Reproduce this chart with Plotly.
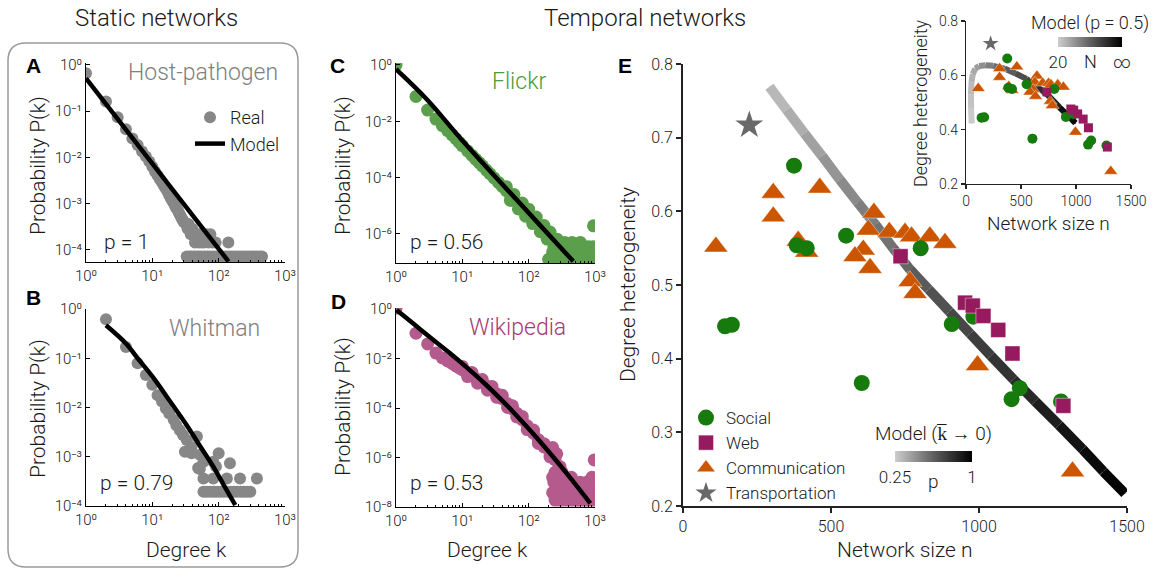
import plotly.graph_objects as go
from plotly.colors import sample_colorscale

W, H = 1153, 573
def X(px): return px / W
def Y(py): return 1 - py / H

FONT = "Roboto"
WEIGHT = 300
TXT = "#1a1a1a"
GRAY = "#878787"
GREEN_C = "#5b9e4b"
PINK_D = "#b45a8c"
SOCIAL = "#167a0c"
WEB = "#951a5e"
COMM = "#cc5500"
TRANS = "#696969"

# ---------------- data (log10 of probabilities) ----------------
# Panel A: Host-pathogen
A_k = [1, 2, 3, 4, 5, 6, 7, 8, 9, 10, 11, 12, 13, 14, 15, 16, 17, 18, 19, 20, 21, 22, 23, 24, 25, 26, 27, 28, 29, 30,
       32, 34, 35, 37, 38, 40, 42, 44, 45, 48, 50, 52, 55, 58, 60, 65, 70, 75, 80, 90, 140,
       33, 36, 39, 43, 47, 51, 56, 62, 68, 75, 83, 92, 102, 113, 125, 138, 152, 168, 185, 205, 226, 250, 275, 305,
       335, 370, 410, 450]
A_logP = [-0.18, -0.79, -1.13, -1.39, -1.59, -1.73, -1.87, -1.98, -2.09, -2.20, -2.31, -2.39, -2.47, -2.54, -2.62,
          -2.68, -2.74, -2.82, -2.88, -2.94, -2.98, -3.05, -3.10, -3.13, -3.19, -3.24, -3.28, -3.33, -3.36, -3.40,
          -3.44, -3.54, -3.44, -3.54, -3.66, -3.54, -3.66, -3.84, -3.66, -3.66, -3.84, -3.66, -3.84, -3.66, -3.84,
          -3.66, -3.84, -3.66, -3.84, -3.84, -3.84,
          -4.14, -4.14, -4.14, -4.14, -4.14, -4.14, -4.14, -4.14, -4.14, -4.14, -4.14, -4.14, -4.14, -4.14,
          -4.14, -4.14, -4.14, -4.14, -4.14, -4.14, -4.14, -4.14, -4.14, -4.14, -4.14, -4.14, -4.14, -4.14]
A_model_k = [1, 141]
A_model_logP = [-0.29, -4.25]

# Panel B: Whitman
B_k = [2, 4, 6, 8, 10, 12, 14, 16, 18, 21, 23, 26, 29, 33, 39, 31, 47, 39, 52, 59, 49, 83, 100, 148, 91, 52,
       59, 83, 133, 210, 377,
       59, 66, 75, 85, 95, 107, 120, 135, 150, 170, 190, 215, 240, 270, 300]
B_logP = [-0.21, -0.77, -1.10, -1.34, -1.54, -1.75, -1.88, -2.02, -2.12, -2.25, -2.36, -2.46, -2.56, -2.66, -2.80,
          -2.90, -2.59, -2.93, -2.96, -3.10, -3.23, -3.10, -2.93, -3.13, -3.20, -3.25,
          -3.44, -3.44, -3.44, -3.44, -3.44,
          -3.71, -3.71, -3.71, -3.71, -3.71, -3.71, -3.71, -3.71, -3.71, -3.71, -3.71, -3.71, -3.71, -3.71, -3.71]
B_model_k = [2, 4, 6, 10, 20, 33, 50, 83, 120, 178]
B_model_logP = [-0.33, -0.70, -1.00, -1.37, -1.94, -2.36, -2.74, -3.20, -3.58, -3.98]

# Panel C: Flickr
C_k = [1, 2, 3, 4, 5, 6, 7, 8, 9, 10, 12, 14, 16, 18, 20, 23, 26, 30, 35, 40, 46, 53, 60, 70, 80, 90, 100, 115,
       130, 150, 170, 190, 210, 240, 270, 300,
       46, 60, 80, 100, 130, 170, 210, 270, 53, 70, 90, 115, 150, 190, 240, 300,
       200, 220, 250, 280, 310, 350, 390, 430, 480, 530, 590, 650, 720, 800, 880, 950, 1000,
       230, 270, 320, 370, 430, 500, 580, 670, 770, 880, 980,
       330, 400, 480, 570, 680, 800, 930, 350, 450, 600, 950]
C_logP = [0.0, -1.12, -1.60, -1.92, -2.15, -2.33, -2.48, -2.62, -2.75, -2.86, -3.05, -3.21, -3.35, -3.47, -3.58,
          -3.73, -3.86, -4.01, -4.17, -4.31, -4.46, -4.61, -4.74, -4.91, -5.05, -5.17, -5.28, -5.43, -5.56, -5.72,
          -5.86, -5.98, -6.08, -6.22, -6.34, -6.45,
          -4.32, -4.60, -4.90, -5.12, -5.40, -5.70, -5.93, -6.19, -4.81, -5.11, -5.37, -5.63, -5.92, -6.18, -6.42,
          -6.65,
          -6.90, -6.90, -6.90, -6.90, -6.90, -6.90, -6.90, -6.90, -6.90, -6.90, -6.90, -6.90, -6.90, -6.90, -6.90,
          -6.90, -6.90,
          -6.63, -6.63, -6.63, -6.63, -6.63, -6.63, -6.63, -6.63, -6.63, -6.63, -6.63,
          -6.45, -6.45, -6.45, -6.45, -6.45, -6.45, -6.45, -6.30, -6.30, -6.30, -5.71]
C_model_k = [1, 3, 10, 100, 470]
C_model_logP = [-0.15, -1.25, -2.68, -5.25, -6.97]

# Panel D: Wikipedia
D_k = [1, 2, 3, 4, 5, 6, 7, 8, 9, 10, 12, 14, 17, 20, 24, 28, 33, 40, 48, 57, 66, 80, 95, 118, 140, 170, 210, 250,
       297,
       10, 14, 20, 28, 40, 57, 80, 118, 170, 250, 12, 17, 24, 33, 48, 66, 95, 140, 210, 297, 265, 230,
       250, 290, 330, 380, 430, 490, 550, 620, 700, 780, 870, 960,
       230, 270, 320, 370, 430, 500, 580, 670, 770, 880, 980,
       260, 320, 390, 470, 560, 660, 780, 920,
       240, 300, 380, 480, 600, 750, 950,
       230, 280, 350, 440, 900, 250, 320, 1000, 1000, 1000, 975]
D_logP = [0.03, -0.98, -1.41, -1.78, -1.98, -2.10, -2.20, -2.30, -2.38, -2.45, -2.58, -2.70, -2.85, -2.98, -3.13,
          -3.26, -3.42, -3.62, -3.83, -4.04, -4.21, -4.47, -4.72, -5.02, -5.28, -5.57, -5.83, -6.10, -6.37,
          -2.32, -2.57, -2.85, -3.13, -3.49, -3.91, -4.34, -4.89, -5.44, -5.97,
          -2.73, -3.00, -3.28, -3.57, -3.98, -4.36, -4.87, -5.43, -5.98, -6.52, -5.85, -5.60,
          -7.72, -7.72, -7.72, -7.72, -7.72, -7.72, -7.72, -7.72, -7.72, -7.72, -7.72, -7.72,
          -7.42, -7.42, -7.42, -7.42, -7.42, -7.42, -7.42, -7.42, -7.42, -7.42, -7.42,
          -7.24, -7.24, -7.24, -7.24, -7.24, -7.24, -7.24, -7.24,
          -7.00, -7.00, -7.00, -7.00, -7.00, -7.00, -7.00,
          -6.80, -6.80, -6.80, -6.80, -6.80, -6.60, -6.60, -7.60, -7.30, -7.00, -6.10]
D_model_k = [1.02, 1.94, 3.66, 6.52, 11.6, 20.7, 37, 66, 118, 210, 374, 850]
D_model_logP = [-0.04, -0.65, -1.25, -1.79, -2.36, -2.96, -3.61, -4.31, -5.05, -5.83, -6.64, -7.85]

# Panel E: degree heterogeneity vs network size
social_n = [375, 384, 418, 551, 142, 165, 604, 803, 908, 981, 1110, 1138, 1277]
social_h = [0.662, 0.554, 0.550, 0.567, 0.444, 0.446, 0.367, 0.550, 0.447, 0.457, 0.345, 0.360, 0.342]
web_n = [735, 953, 979, 1015, 1065, 1113, 1285]
web_h = [0.539, 0.476, 0.472, 0.458, 0.439, 0.407, 0.336]
comm_n = [111, 305, 305, 462, 389, 418, 645, 626, 609, 581, 632, 697, 750, 772, 834, 885, 767, 784, 995, 1316]
comm_h = [0.552, 0.625, 0.593, 0.632, 0.560, 0.545, 0.598, 0.575, 0.548, 0.539, 0.523, 0.572, 0.571, 0.566,
          0.566, 0.557, 0.505, 0.489, 0.391, 0.247]
trans_n = [224]
trans_h = [0.717]

# Model curve (k-bar -> 0), coloured by p
model_n = [292, 350, 410, 470, 530, 590, 650, 710, 767, 830, 900, 970, 1040, 1116, 1190, 1270, 1350, 1420, 1493]
model_h = [0.769, 0.738, 0.706, 0.675, 0.643, 0.612, 0.582, 0.550, 0.521, 0.494, 0.464, 0.434, 0.404, 0.372,
           0.342, 0.310, 0.277, 0.247, 0.217]
model_p = [0.30, 0.34, 0.38, 0.42, 0.46, 0.50, 0.54, 0.58, 0.62, 0.66, 0.70, 0.74, 0.78, 0.82, 0.86, 0.90, 0.94,
           0.97, 1.00]

# Inset model curve (p = 0.5), coloured by N (0 -> N=20, 1 -> N=inf)
inset_n = [52, 46, 45, 50, 62, 85, 120, 180, 250, 350, 450, 550, 650, 750, 850, 950, 995]
inset_h = [0.423, 0.480, 0.530, 0.575, 0.605, 0.625, 0.634, 0.637, 0.635, 0.625, 0.607, 0.587, 0.558, 0.525,
           0.482, 0.443, 0.424]
inset_c = [0.00, 0.03, 0.06, 0.10, 0.14, 0.19, 0.25, 0.32, 0.40, 0.48, 0.56, 0.64, 0.72, 0.80, 0.88, 0.95, 1.00]

# ---------------- figure ----------------
def p10(vals):
    return [10 ** v for v in vals]

CS = [[0, "rgb(205,205,205)"], [0.5, "rgb(95,95,95)"], [1, "rgb(0,0,0)"]]
fig = go.Figure()

def add(tr):
    fig.add_trace(tr)

def F(size, color=TXT):
    return dict(size=size, color=color, family=FONT, weight=WEIGHT)

# A
add(go.Scatter(x=A_k, y=p10(A_logP), mode="markers", marker=dict(size=12, color=GRAY),
               name="Real", legend="legend2", xaxis="x", yaxis="y", hoverinfo="skip"))
add(go.Scatter(x=A_model_k, y=p10(A_model_logP), mode="lines", line=dict(color="black", width=4.5),
               name="Model", legend="legend2", xaxis="x", yaxis="y", hoverinfo="skip"))
# B
add(go.Scatter(x=B_k, y=p10(B_logP), mode="markers", marker=dict(size=12, color=GRAY),
               showlegend=False, xaxis="x2", yaxis="y2", hoverinfo="skip"))
add(go.Scatter(x=B_model_k, y=p10(B_model_logP), mode="lines", line=dict(color="black", width=4.5, shape="spline"),
               showlegend=False, xaxis="x2", yaxis="y2", hoverinfo="skip"))
# C
add(go.Scatter(x=C_k, y=p10(C_logP), mode="markers", marker=dict(size=13, color=GREEN_C),
               showlegend=False, xaxis="x3", yaxis="y3", hoverinfo="skip"))
add(go.Scatter(x=C_model_k, y=p10(C_model_logP), mode="lines", line=dict(color="black", width=4.5, shape="spline"),
               showlegend=False, xaxis="x3", yaxis="y3", hoverinfo="skip"))
# D
add(go.Scatter(x=D_k, y=p10(D_logP), mode="markers", marker=dict(size=13, color=PINK_D),
               showlegend=False, xaxis="x4", yaxis="y4", hoverinfo="skip"))
add(go.Scatter(x=D_model_k, y=p10(D_model_logP), mode="lines", line=dict(color="black", width=4.5, shape="spline"),
               showlegend=False, xaxis="x4", yaxis="y4", hoverinfo="skip"))

# E model line as gradient segments
for i in range(len(model_n) - 1):
    t = ((model_p[i] + model_p[i + 1]) / 2 - 0.25) / 0.75
    col = sample_colorscale(CS, [t])[0]
    add(go.Scatter(x=model_n[i:i + 2], y=model_h[i:i + 2], mode="lines", line=dict(color=col, width=10),
                   showlegend=False, xaxis="x5", yaxis="y5", hoverinfo="skip"))
add(go.Scatter(x=model_n, y=model_h, mode="markers",
               marker=dict(size=1, color=model_p, colorscale=CS, cmin=0.25, cmax=1, showscale=True,
                           colorbar=dict(orientation="h", x=X(933.5), xanchor="center", y=Y(451), yanchor="top",
                                         len=77, lenmode="pixels", thickness=11, thicknessmode="pixels",
                                         outlinewidth=0, tickvals=[0.25, 1], ticktext=["0.25", "1"], ticks="",
                                         tickfont=F(17), xpad=0, ypad=0)),
               showlegend=False, xaxis="x5", yaxis="y5", hoverinfo="skip"))

EDGE = dict(width=0.6, color="rgba(255,255,255,0.7)")
add(go.Scatter(x=comm_n, y=comm_h, mode="markers", name="Communication", legendrank=3,
               marker=dict(symbol="triangle-up", size=21, color=COMM, line=EDGE), xaxis="x5", yaxis="y5",
               hoverinfo="skip"))
add(go.Scatter(x=social_n, y=social_h, mode="markers", name="Social", legendrank=1,
               marker=dict(symbol="circle", size=16, color=SOCIAL), xaxis="x5", yaxis="y5", hoverinfo="skip"))
add(go.Scatter(x=web_n, y=web_h, mode="markers", name="Web", legendrank=2,
               marker=dict(symbol="square", size=15, color=WEB, line=EDGE), xaxis="x5", yaxis="y5",
               hoverinfo="skip"))
add(go.Scatter(x=trans_n, y=trans_h, mode="markers", name="Transportation", legendrank=4,
               marker=dict(symbol="star", size=21, color=TRANS), xaxis="x5", yaxis="y5", hoverinfo="skip"))

# Inset
for i in range(len(inset_n) - 1):
    t = (inset_c[i] + inset_c[i + 1]) / 2
    col = sample_colorscale(CS, [t])[0]
    add(go.Scatter(x=inset_n[i:i + 2], y=inset_h[i:i + 2], mode="lines", line=dict(color=col, width=6),
                   showlegend=False, xaxis="x6", yaxis="y6", hoverinfo="skip"))
add(go.Scatter(x=inset_n, y=inset_h, mode="markers",
               marker=dict(size=1, color=inset_c, colorscale=CS, cmin=0, cmax=1, showscale=True,
                           colorbar=dict(orientation="h", x=X(1090), xanchor="center", y=Y(37), yanchor="top",
                                         len=64, lenmode="pixels", thickness=10, thicknessmode="pixels",
                                         outlinewidth=0, tickvals=[0, 1], ticktext=["20", "∞"], ticks="",
                                         tickfont=F(17), xpad=0, ypad=0)),
               showlegend=False, xaxis="x6", yaxis="y6", hoverinfo="skip"))
add(go.Scatter(x=comm_n, y=comm_h, mode="markers", showlegend=False,
               marker=dict(symbol="triangle-up", size=12, color=COMM, line=dict(width=0.4, color="white")),
               xaxis="x6", yaxis="y6", hoverinfo="skip"))
add(go.Scatter(x=social_n, y=social_h, mode="markers", showlegend=False,
               marker=dict(symbol="circle", size=10, color=SOCIAL), xaxis="x6", yaxis="y6", hoverinfo="skip"))
add(go.Scatter(x=web_n, y=web_h, mode="markers", showlegend=False,
               marker=dict(symbol="square", size=9, color=WEB), xaxis="x6", yaxis="y6", hoverinfo="skip"))
add(go.Scatter(x=trans_n, y=trans_h, mode="markers", showlegend=False,
               marker=dict(symbol="star", size=12, color=TRANS), xaxis="x6", yaxis="y6", hoverinfo="skip"))

# ---------------- axes ----------------
MINOR = [m * 10 ** e for e in range(0, 3) for m in range(2, 10)]
SUPS = {"0": "⁰", "1": "¹", "2": "²", "3": "³", "4": "⁴", "5": "⁵", "6": "⁶", "7": "⁷", "8": "⁸", "9": "⁹",
        "-": "⁻"}
def sup(e):
    return "10" + "".join(SUPS[c] for c in str(e))

def log_x(px0, px1, anchor):
    return dict(type="log", domain=[X(px0), X(px1)], anchor=anchor, range=[0, 3],
                tickvals=[1, 10, 100, 1000], ticktext=[sup(e) for e in range(4)],
                ticks="inside", ticklen=4, tickwidth=1, tickcolor="black", showline=True, linecolor="black",
                linewidth=1, showgrid=False, zeroline=False, tickfont=F(15),
                minor=dict(tickmode="array", tickvals=MINOR, ticks="inside", ticklen=2, tickwidth=1,
                           tickcolor="black", showgrid=False))

def log_y(py_bot, py_top, anchor, rng, exps):
    return dict(type="log", domain=[Y(py_bot), Y(py_top)], anchor=anchor, range=rng,
                tickvals=[10 ** e for e in exps], ticktext=[sup(e) for e in exps],
                ticks="inside", ticklen=4, tickwidth=1, tickcolor="black", showline=True, linecolor="black",
                linewidth=1, showgrid=False, zeroline=False, tickfont=F(15))

def lin(dom, anchor, rng, vals, text, size, lw, tl):
    return dict(domain=dom, anchor=anchor, range=rng, tickvals=vals, ticktext=text, ticks="outside",
                ticklen=tl, tickwidth=lw, tickcolor="#222", showline=True, linecolor="#222", linewidth=lw,
                showgrid=False, zeroline=False, tickfont=F(size))

layout = dict(
    width=W, height=H, margin=dict(l=0, r=0, t=0, b=0, autoexpand=False), autosize=False,
    paper_bgcolor="white", plot_bgcolor="rgba(0,0,0,0)",
    font=dict(family=FONT, color=TXT, weight=WEIGHT),
    xaxis=log_x(86, 285, "y"), yaxis=log_y(262, 63, "x", [-4.26, 0.04], [0, -1, -2, -3, -4]),
    xaxis2=log_x(86, 285, "y2"), yaxis2=log_y(506, 309, "x2", [-4.0, 0.0], [0, -1, -2, -3, -4]),
    xaxis3=log_x(396, 595, "y3"), yaxis3=log_y(263, 63, "x3", [-7.03, 0.07], [0, -2, -4, -6]),
    xaxis4=log_x(396, 595, "y4"), yaxis4=log_y(507, 308, "x4", [-8.0, 0.04], [0, -2, -4, -6, -8]),
    xaxis5=lin([X(683), X(1127)], "y5", [0, 1500], [0, 500, 1000, 1500], ["0", "500", "1000", "1500"], 16, 2, 5),
    yaxis5=lin([Y(506), Y(64)], "x5", [0.2, 0.8], [0.2, 0.3, 0.4, 0.5, 0.6, 0.7, 0.8],
               ["0.2", "0.3", "0.4", "0.5", "0.6", "0.7", "0.8"], 16, 2, 5),
    xaxis6=lin([X(966), X(1131)], "y6", [0, 1500], [0, 500, 1000, 1500], ["0", "500", "1000", "1500"], 14, 1.2, 4),
    yaxis6=lin([Y(184), Y(21)], "x6", [0.2, 0.8], [0.2, 0.4, 0.6, 0.8], ["0.2", "0.4", "0.6", "0.8"], 14, 1.2, 4),
    legend=dict(x=X(686), y=Y(400), xanchor="left", yanchor="top", bgcolor="rgba(0,0,0,0)",
                font=F(17), tracegroupgap=0, itemsizing="trace"),
    legend2=dict(x=X(190), y=Y(99), xanchor="left", yanchor="top", bgcolor="rgba(0,0,0,0)",
                 font=F(18), tracegroupgap=0),
)
fig.update_layout(**layout)

# rounded box around static panels
x0, x1, y0, y1, r = 8, 298, 43, 567, 18
path = (f"M {X(x0 + r)},{Y(y0)} L {X(x1 - r)},{Y(y0)} Q {X(x1)},{Y(y0)} {X(x1)},{Y(y0 + r)} "
        f"L {X(x1)},{Y(y1 - r)} Q {X(x1)},{Y(y1)} {X(x1 - r)},{Y(y1)} L {X(x0 + r)},{Y(y1)} "
        f"Q {X(x0)},{Y(y1)} {X(x0)},{Y(y1 - r)} L {X(x0)},{Y(y0 + r)} Q {X(x0)},{Y(y0)} {X(x0 + r)},{Y(y0)} Z")
fig.add_shape(type="path", path=path, xref="paper", yref="paper", line=dict(color="#9a9a9a", width=1.5),
              layer="below")

def ann(text, px, py, size, color=TXT, xanchor="center", angle=0, bold=False):
    font = F(size, color)
    if bold:
        font = dict(size=size, color=color, family="Liberation Sans", weight=700)
    fig.add_annotation(text=text, x=X(px), y=Y(py), xref="paper", yref="paper", showarrow=False,
                       xanchor=xanchor, yanchor="middle", textangle=angle, font=font)

ann("Static networks", 157, 18, 24)
ann("Temporal networks", 645, 18, 24)
for letter, px, py in [("A", 33, 65), ("B", 33, 297), ("C", 337, 65), ("D", 338, 301), ("E", 625, 65)]:
    ann(letter, px, py, 21, "black", bold=True)
ann("Host-pathogen", 280, 72, 23, "#808080", xanchor="right")
ann("Whitman", 214, 328, 23, "#808080")
ann("Flickr", 519, 82, 23, "#4b9b3a")
ann("Wikipedia", 517, 327, 23, "#a83a72")
ann("p = 1", 102, 242, 21, xanchor="left")
ann("p = 0.79", 98, 483, 21, xanchor="left")
ann("p = 0.56", 408, 242, 21, xanchor="left")
ann("p = 0.53", 408, 483, 21, xanchor="left")
for px, py in [(38, 166), (38, 409), (343, 166), (343, 407)]:
    ann("Probability P(k)", px, py, 21, angle=-90)
ann("Degree k", 186, 550, 21)
ann("Degree k", 487, 550, 21)
ann("Degree heterogeneity", 628, 284, 21, angle=-90)
ann("Network size n", 905, 550, 21)
ann("Degree heterogeneity", 920, 103, 18, angle=-90)
ann("Network size n", 1048, 223, 19)
ann("Model (k\u0305 \u2192 0)", 933, 433, 19)
ann("p", 933, 481, 19)
ann("Model (p = 0.5)", 1090, 23, 18)
ann("N", 1090, 62, 18)

# remove the default page margin so the 1153x573 figure fills the window exactly
fig.write_html("out.html", config={"displayModeBar": False, "staticPlot": True},
               post_script="document.body.style.margin='0';document.body.style.overflow='hidden';")
